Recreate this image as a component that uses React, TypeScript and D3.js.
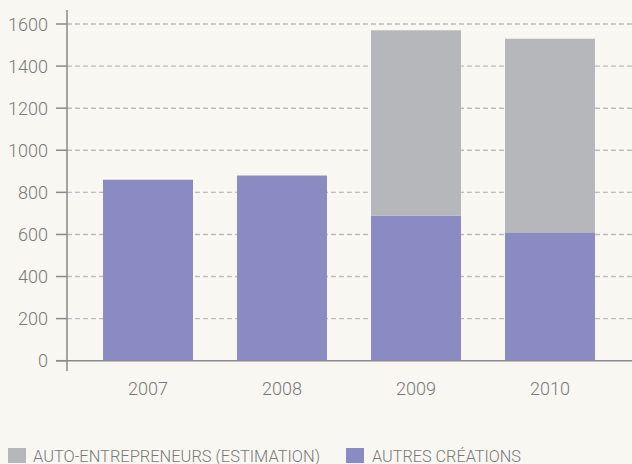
import React from "react";
import * as d3 from "d3";

const years = ["2007", "2008", "2009", "2010"];
const autresCreations = [860, 880, 690, 610];
const autoEntrepreneurs = [0, 0, 880, 920];
const yTicks = [0, 200, 400, 600, 800, 1000, 1200, 1400, 1600];
const legendLabels = ["AUTO-ENTREPRENEURS (ESTIMATION)", "AUTRES CRÉATIONS"];

const W = 632;
const H = 464;
const BG = "#f8f7f1";
const PURPLE = "#8b8bc3";
const GRAY = "#b6b7ba";
const AXIS = "#8a8a8a";
const TEXT = "#7a7a7a";
const FONT = "Roboto, 'DejaVu Sans', sans-serif";

export default function App() {
  const x = d3.scaleBand<string>().domain(years).range([81, 617]).paddingInner(44 / 134).paddingOuter(22 / 134);
  const y = d3.scaleLinear().domain([0, 1600]).range([360.7, 24]);
  const axisX = 67;

  return (
    <svg width={W} height={H} style={{ position: "absolute", left: 0, top: 0, background: BG }} fontFamily={FONT}>
      <rect x={0} y={0} width={W} height={H} fill={BG} />
      {yTicks.filter((t) => t > 0).map((t) => (
        <line key={"g" + t} x1={axisX} x2={W} y1={y(t)} y2={y(t)} stroke="#bdbdbd" strokeWidth={1.4} strokeDasharray="5,3" />
      ))}
      {years.map((yr, i) => (
        <g key={yr}>
          <rect x={x(yr)} width={x.bandwidth()} y={y(autresCreations[i])} height={y(0) - y(autresCreations[i])} fill={PURPLE} />
          {autoEntrepreneurs[i] > 0 && (
            <rect
              x={x(yr)}
              width={x.bandwidth()}
              y={y(autresCreations[i] + autoEntrepreneurs[i])}
              height={y(autresCreations[i]) - y(autresCreations[i] + autoEntrepreneurs[i])}
              fill={GRAY}
            />
          )}
        </g>
      ))}
      <line x1={axisX} x2={axisX} y1={10} y2={371} stroke={AXIS} strokeWidth={1.5} />
      <line x1={56} x2={W} y1={y(0)} y2={y(0)} stroke={AXIS} strokeWidth={1.5} />
      {yTicks.map((t) => (
        <g key={"t" + t}>
          <line x1={56} x2={axisX} y1={y(t)} y2={y(t)} stroke={AXIS} strokeWidth={1.5} />
          <text x={48} y={y(t) + 6.5} textAnchor="end" fontSize={18} fontWeight={300} fill={TEXT}>
            {t}
          </text>
        </g>
      ))}
      {years.map((yr) => (
        <text key={"x" + yr} x={(x(yr) as number) + x.bandwidth() / 2} y={395} textAnchor="middle" fontSize={18} fontWeight={300} fill={TEXT}>
          {yr}
        </text>
      ))}
      <rect x={8} y={448} width={18} height={15} fill={GRAY} />
      <text x={33} y={462} fontSize={16} fontWeight={300} fill={TEXT} textLength={287} lengthAdjust="spacingAndGlyphs">
        {legendLabels[0]}
      </text>
      <rect x={346} y={448} width={18} height={15} fill={PURPLE} />
      <text x={372} y={462} fontSize={16} fontWeight={300} fill={TEXT} textLength={149} lengthAdjust="spacingAndGlyphs">
        {legendLabels[1]}
      </text>
    </svg>
  );
}
